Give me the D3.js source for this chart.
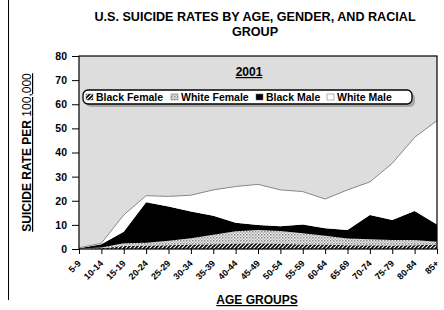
<!DOCTYPE html>
<html>
<head>
<meta charset="utf-8">
<script src="https://cdn.jsdelivr.net/npm/d3@7"></script>
<style>
  body { margin: 0; background: #fff; }
  svg { display: block; font-family: "Liberation Sans", Arial, sans-serif; }
</style>
</head>
<body>
<div id="chart"></div>
<script>
const ages = ["5-9","10-14","15-19","20-24","25-29","30-34","35-39","40-44","45-49","50-54","55-59","60-64","65-69","70-74","75-79","80-84","85+"];
const blackFemale = [0.1, 0.3, 1.2, 1.4, 1.6, 1.9, 2.0, 2.3, 2.4, 2.2, 1.9, 1.9, 1.6, 1.6, 1.4, 1.6, 1.9];
const whiteFemale = [0.1, 0.3, 1.2, 1.2, 1.8, 2.6, 3.9, 5.1, 5.5, 5.3, 4.6, 3.6, 2.8, 2.4, 2.3, 2.1, 1.1];
const blackMale   = [0.1, 1.4, 4.8, 16.8, 14.2, 11.0, 7.9, 3.5, 2.1, 1.9, 3.7, 3.1, 3.5, 10.1, 8.3, 12.1, 7.2];
const whiteMale   = [0.2, 0.4, 6.9, 2.7, 4.2, 6.8, 10.7, 15.0, 16.8, 15.1, 13.6, 12.1, 16.6, 13.7, 23.5, 30.5, 43.0];
const seriesNames = ["Black Female","White Female","Black Male","White Male"];
const yTicks = [0,10,20,30,40,50,60,70,80];

const width = 444, height = 310;
const margin = { top: 56, right: 7, bottom: 61, left: 79 };

const rows = ages.map((a, i) => ({
  age: a,
  "Black Female": blackFemale[i],
  "White Female": whiteFemale[i],
  "Black Male": blackMale[i],
  "White Male": whiteMale[i]
}));

const svg = d3.select("#chart").append("svg").attr("width", width).attr("height", height);

// patterns
const defs = svg.append("defs");
const hatch = defs.append("pattern").attr("id","hatchBF").attr("patternUnits","userSpaceOnUse")
  .attr("width",4).attr("height",4);
hatch.append("rect").attr("width",4).attr("height",4).attr("fill","#fff");
hatch.append("path").attr("d","M-1,1 l2,-2 M0,4 l4,-4 M3,5 l2,-2").attr("stroke","#000").attr("stroke-width",1.6);

const dots = defs.append("pattern").attr("id","dotsWF").attr("patternUnits","userSpaceOnUse")
  .attr("width",3).attr("height",3);
dots.append("rect").attr("width",3).attr("height",3).attr("fill","#ececec");
dots.append("rect").attr("x",0).attr("y",0).attr("width",1.5).attr("height",1.5).attr("fill","#8a8a8a");
dots.append("rect").attr("x",1.5).attr("y",1.5).attr("width",1.5).attr("height",1.5).attr("fill","#b4b4b4");

const fills = {
  "Black Female": "url(#hatchBF)",
  "White Female": "url(#dotsWF)",
  "Black Male": "#000",
  "White Male": "#fff"
};

const x = d3.scalePoint().domain(ages).range([margin.left, width - margin.right]);
const y = d3.scaleLinear().domain([0, 80]).range([height - margin.bottom, margin.top]);

// page edge line
svg.append("line").attr("x1",8.5).attr("x2",8.5).attr("y1",0).attr("y2",300)
  .attr("stroke","#000").attr("stroke-width",1);

// plot background
svg.append("rect")
  .attr("x", margin.left).attr("y", margin.top)
  .attr("width", width - margin.right - margin.left)
  .attr("height", height - margin.bottom - margin.top)
  .attr("fill", "#dddddd");

const stacked = d3.stack().keys(seriesNames)(rows);
const area = d3.area()
  .x(d => x(d.data.age))
  .y0(d => y(d[0]))
  .y1(d => y(d[1]));

svg.append("g").selectAll("path")
  .data(stacked)
  .enter().append("path")
  .attr("d", area)
  .attr("fill", d => fills[d.key]);

// top outline
const topLayer = stacked[stacked.length - 1];
svg.append("path")
  .datum(topLayer)
  .attr("d", d3.line().x(d => x(d.data.age)).y(d => y(d[1])))
  .attr("fill", "none")
  .attr("stroke", "#888")
  .attr("stroke-width", 1);

// plot border
svg.append("rect")
  .attr("x", margin.left).attr("y", margin.top)
  .attr("width", width - margin.right - margin.left)
  .attr("height", height - margin.bottom - margin.top)
  .attr("fill", "none").attr("stroke", "#000").attr("stroke-width", 1.2);

// axes
const yAxis = svg.append("g")
  .attr("transform", `translate(${margin.left},0)`)
  .call(d3.axisLeft(y).tickValues(yTicks).tickSize(7).tickSizeOuter(0).tickPadding(5));
yAxis.select(".domain").remove();
yAxis.selectAll("text").style("font-size","10.5px").style("font-weight","bold").attr("fill","#000");

const xAxis = svg.append("g")
  .attr("transform", `translate(0,${height - margin.bottom})`)
  .call(d3.axisBottom(x).tickSize(5).tickSizeOuter(0));
xAxis.select(".domain").remove();
xAxis.selectAll("text")
  .style("font-size","9px").style("font-weight","bold").attr("fill","#000")
  .attr("text-anchor","end")
  .attr("dy", null).attr("y", 0)
  .attr("transform","translate(2,15) rotate(-45)");

// titles
const title = svg.append("text")
  .attr("x", 255).attr("text-anchor","middle")
  .style("font-size","12.6px").style("font-weight","bold");
title.append("tspan").attr("x",255).attr("y",21).text("U.S. SUICIDE RATES BY AGE, GENDER, AND RACIAL");
title.append("tspan").attr("x",255).attr("y",36).text("GROUP");

svg.append("text")
  .attr("x", 249).attr("y", 76).attr("text-anchor","middle")
  .style("font-size","12px").style("font-weight","bold")
  .style("text-decoration","underline")
  .text("2001");

svg.append("text")
  .attr("x", 257).attr("y", 304).attr("text-anchor","middle")
  .style("font-size","12px").style("font-weight","bold")
  .style("text-decoration","underline")
  .text("AGE GROUPS");

const yl = svg.append("text")
  .attr("transform", `translate(31,${(margin.top + height - margin.bottom) / 2}) rotate(-90)`)
  .attr("text-anchor","middle")
  .style("font-size","12px").style("font-weight","bold")
  .style("text-decoration","underline");
yl.append("tspan").text("SUICIDE RATE PER ");
yl.append("tspan").style("font-weight","normal").text("100,000");

// legend
const lg = svg.append("g");
lg.append("rect").attr("x",86).attr("y",93).attr("width",329).attr("height",14).attr("rx",5)
  .attr("fill","#a8a8a8");
lg.append("rect").attr("x",83).attr("y",90).attr("width",329).attr("height",14).attr("rx",5)
  .attr("fill","#fff").attr("stroke","#000").attr("stroke-width",1.3);
const legendX = [86, 171, 256, 327];
seriesNames.forEach((s, i) => {
  lg.append("rect").attr("x", legendX[i]).attr("y", 94).attr("width", 7).attr("height", 6)
    .attr("fill", fills[s]).attr("stroke", "#666").attr("stroke-width", 0.5);
  lg.append("text").attr("x", legendX[i] + 10).attr("y", 100.7)
    .style("font-size","10.5px").style("font-weight","bold").text(s);
});
</script>
</body>
</html>
